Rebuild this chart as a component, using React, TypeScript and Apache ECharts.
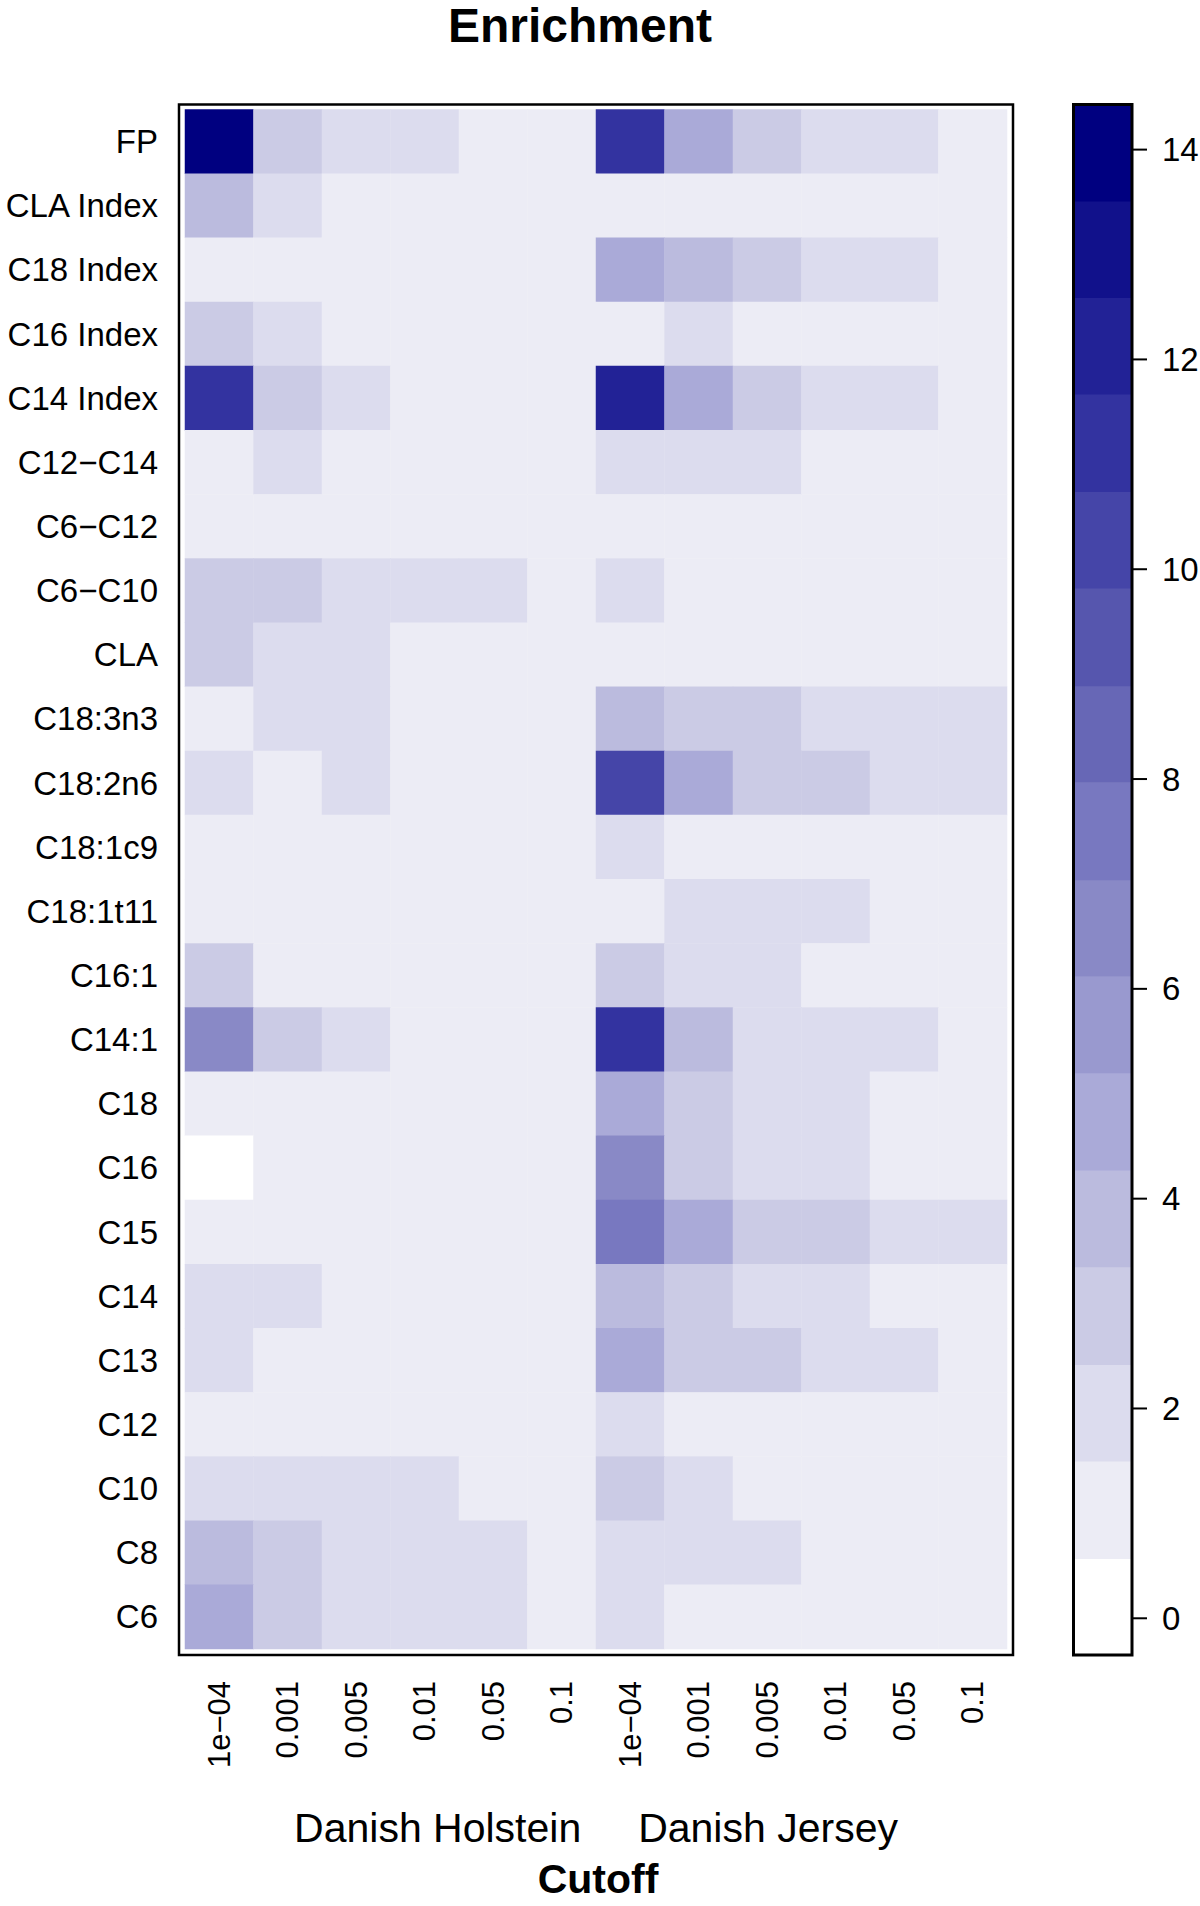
import React, { useEffect, useRef } from "react";
import * as echarts from "echarts";

// ---------- data ----------
const rowLabels = [
  "FP", "CLA Index", "C18 Index", "C16 Index", "C14 Index", "C12−C14", "C6−C12", "C6−C10",
  "CLA", "C18:3n3", "C18:2n6", "C18:1c9", "C18:1t11", "C16:1", "C14:1", "C18", "C16",
  "C15", "C14", "C13", "C12", "C10", "C8", "C6",
];
const cutoffLabels = [
  "1e−04", "0.001", "0.005", "0.01", "0.05", "0.1",
  "1e−04", "0.001", "0.005", "0.01", "0.05", "0.1",
];
const groupLabel = "Danish Holstein     Danish Jersey";
const axisTitle = "Cutoff";
const chartTitle = "Enrichment";

// enrichment per row: 6 cutoffs Danish Holstein, then 6 cutoffs Danish Jersey
const valFP = [14.0, 2.9, 2.0, 2.0, 1.0, 1.0, 11.2, 4.7, 2.9, 2.0, 2.0, 1.0];
const valCLAIndex = [3.8, 2.0, 1.0, 1.0, 1.0, 1.0, 1.0, 1.0, 1.0, 1.0, 1.0, 1.0];
const valC18Index = [1.0, 1.0, 1.0, 1.0, 1.0, 1.0, 4.7, 3.8, 2.9, 2.0, 2.0, 1.0];
const valC16Index = [2.9, 2.0, 1.0, 1.0, 1.0, 1.0, 1.0, 2.0, 1.0, 1.0, 1.0, 1.0];
const valC14Index = [11.2, 2.9, 2.0, 1.0, 1.0, 1.0, 12.1, 4.7, 2.9, 2.0, 2.0, 1.0];
const valC12C14 = [1.0, 2.0, 1.0, 1.0, 1.0, 1.0, 2.0, 2.0, 2.0, 1.0, 1.0, 1.0];
const valC6C12 = [1.0, 1.0, 1.0, 1.0, 1.0, 1.0, 1.0, 1.0, 1.0, 1.0, 1.0, 1.0];
const valC6C10 = [2.9, 2.9, 2.0, 2.0, 2.0, 1.0, 2.0, 1.0, 1.0, 1.0, 1.0, 1.0];
const valCLA = [2.9, 2.0, 2.0, 1.0, 1.0, 1.0, 1.0, 1.0, 1.0, 1.0, 1.0, 1.0];
const valC183n3 = [1.0, 2.0, 2.0, 1.0, 1.0, 1.0, 3.8, 2.9, 2.9, 2.0, 2.0, 2.0];
const valC182n6 = [2.0, 1.0, 2.0, 1.0, 1.0, 1.0, 10.3, 4.7, 2.9, 2.9, 2.0, 2.0];
const valC181c9 = [1.0, 1.0, 1.0, 1.0, 1.0, 1.0, 2.0, 1.0, 1.0, 1.0, 1.0, 1.0];
const valC181t11 = [1.0, 1.0, 1.0, 1.0, 1.0, 1.0, 1.0, 2.0, 2.0, 2.0, 1.0, 1.0];
const valC161 = [2.9, 1.0, 1.0, 1.0, 1.0, 1.0, 2.9, 2.0, 2.0, 1.0, 1.0, 1.0];
const valC141 = [6.6, 2.9, 2.0, 1.0, 1.0, 1.0, 11.2, 3.8, 2.0, 2.0, 2.0, 1.0];
const valC18 = [1.0, 1.0, 1.0, 1.0, 1.0, 1.0, 4.7, 2.9, 2.0, 2.0, 1.0, 1.0];
const valC16 = [0.0, 1.0, 1.0, 1.0, 1.0, 1.0, 6.6, 2.9, 2.0, 2.0, 1.0, 1.0];
const valC15 = [1.0, 1.0, 1.0, 1.0, 1.0, 1.0, 7.5, 4.7, 2.9, 2.9, 2.0, 2.0];
const valC14 = [2.0, 2.0, 1.0, 1.0, 1.0, 1.0, 3.8, 2.9, 2.0, 2.0, 1.0, 1.0];
const valC13 = [2.0, 1.0, 1.0, 1.0, 1.0, 1.0, 4.7, 2.9, 2.9, 2.0, 2.0, 1.0];
const valC12 = [1.0, 1.0, 1.0, 1.0, 1.0, 1.0, 2.0, 1.0, 1.0, 1.0, 1.0, 1.0];
const valC10 = [2.0, 2.0, 2.0, 2.0, 1.0, 1.0, 2.9, 2.0, 1.0, 1.0, 1.0, 1.0];
const valC8 = [3.8, 2.9, 2.0, 2.0, 2.0, 1.0, 2.0, 2.0, 2.0, 1.0, 1.0, 1.0];
const valC6 = [4.7, 2.9, 2.0, 2.0, 2.0, 1.0, 2.0, 1.0, 1.0, 1.0, 1.0, 1.0];

const rowValues = [
  valFP, valCLAIndex, valC18Index, valC16Index, valC14Index, valC12C14, valC6C12, valC6C10,
  valCLA, valC183n3, valC182n6, valC181c9, valC181t11, valC161, valC141, valC18, valC16,
  valC15, valC14, valC13, valC12, valC10, valC8, valC6,
];

// colour key
const breaks = [
  -0.35, 0.57, 1.5, 2.42, 3.35, 4.27, 5.2, 6.12, 7.04, 7.97, 8.89, 9.82, 10.74, 11.67, 12.59, 13.51, 14.43,
];
const palette = [
  "#ffffff", "#ececf5", "#dcdcee", "#cbcbe5", "#bbbbde", "#aaaad8", "#9999cf", "#8989c6",
  "#7878c0", "#6767b6", "#5656ae", "#4545a8", "#3333a0", "#222296", "#11118b", "#000080",
];
const keyTicks = [0, 2, 4, 6, 8, 10, 12, 14];

const FONT = "Liberation Sans, Arial, Helvetica, sans-serif";

export default function App() {
  const ref = useRef<HTMLDivElement>(null);

  useEffect(() => {
    if (!ref.current) return;
    const chart = echarts.init(ref.current, null, { renderer: "svg" });

    const heatData: number[][] = [];
    rowValues.forEach((row, r) => {
      row.forEach((v, c) => heatData.push([c, r, v]));
    });

    const pieces = palette.map((color, k) => ({
      gte: breaks[k],
      lt: breaks[k + 1],
      color,
    }));

    const bandData = palette.map((_, k) => [breaks[k], breaks[k + 1], k]);
    const tickData = keyTicks.map((v) => [1, v]);

    const option: any = {
      animation: false,
      backgroundColor: "#ffffff",
      grid: [
        {
          left: 185, top: 109.5, width: 822, height: 1539.5,
          containLabel: false, outerBoundsMode: "none",
        },
        {
          left: 1073.5, top: 104.5, width: 58.5, height: 1550.5,
          containLabel: false, outerBoundsMode: "none",
        },
      ],
      xAxis: [
        {
          type: "category",
          gridIndex: 0,
          data: cutoffLabels,
          position: "bottom",
          axisLine: { show: false },
          axisTick: { show: false },
          splitLine: { show: false },
          axisLabel: {
            rotate: 90,
            margin: 32,
            fontSize: 31,
            color: "#000",
            fontFamily: FONT,
            interval: 0,
          },
        },
        { type: "value", gridIndex: 1, min: 0, max: 1, show: false },
      ],
      yAxis: [
        {
          type: "category",
          gridIndex: 0,
          data: rowLabels,
          inverse: true,
          axisLine: { show: false },
          axisTick: { show: false },
          splitLine: { show: false },
          axisLabel: {
            margin: 27,
            fontSize: 33,
            color: "#000",
            fontFamily: FONT,
            interval: 0,
          },
        },
        {
          type: "value",
          gridIndex: 1,
          min: breaks[0],
          max: breaks[breaks.length - 1],
          position: "right",
          splitLine: { show: false },
          axisLine: { show: false },
          axisTick: { show: false },
          axisLabel: {
            customValues: keyTicks,
            margin: 30,
            fontSize: 33,
            color: "#000",
            fontFamily: FONT,
          },
        },
      ],
      visualMap: {
        type: "piecewise",
        show: false,
        seriesIndex: 0,
        dimension: 2,
        pieces,
      },
      series: [
        {
          type: "heatmap",
          xAxisIndex: 0,
          yAxisIndex: 0,
          data: heatData,
          itemStyle: { borderWidth: 0 },
          emphasis: { disabled: true },
        },
        {
          type: "custom",
          xAxisIndex: 1,
          yAxisIndex: 1,
          data: bandData,
          renderItem: (params: any, api: any) => {
            const lo = api.value(0);
            const hi = api.value(1);
            const k = api.value(2);
            const p0 = api.coord([0, lo]);
            const p1 = api.coord([1, hi]);
            return {
              type: "rect",
              shape: {
                x: p0[0],
                y: p1[1],
                width: p1[0] - p0[0],
                height: p0[1] - p1[1] + 0.5,
              },
              style: { fill: palette[k], stroke: null },
            };
          },
        },
        {
          // colour-key tick marks
          type: "custom",
          xAxisIndex: 1,
          yAxisIndex: 1,
          data: tickData,
          clip: false,
          renderItem: (params: any, api: any) => {
            const p = api.coord([api.value(0), api.value(1)]);
            return {
              type: "line",
              shape: { x1: p[0], y1: p[1], x2: p[0] + 15, y2: p[1] },
              style: { stroke: "#000", lineWidth: 2 },
            };
          },
        },
      ],
      graphic: [
        {
          type: "rect",
          shape: { x: 179, y: 104.5, width: 834, height: 1550.5 },
          style: { fill: "none", stroke: "#000", lineWidth: 2.5 },
          z: 100,
        },
        {
          type: "rect",
          shape: { x: 1073.5, y: 104.5, width: 58.5, height: 1550.5 },
          style: { fill: "none", stroke: "#000", lineWidth: 3 },
          z: 100,
        },
        {
          type: "text",
          x: 580,
          y: 25,
          style: {
            text: chartTitle,
            fontSize: 48,
            fontWeight: "bold",
            fontFamily: FONT,
            fill: "#000",
            align: "center",
            verticalAlign: "middle",
          },
        },
        {
          type: "text",
          x: 596,
          y: 1828,
          style: {
            text: groupLabel,
            fontSize: 41,
            fontFamily: FONT,
            fill: "#000",
            align: "center",
            verticalAlign: "middle",
          },
        },
        {
          type: "text",
          x: 598,
          y: 1879,
          style: {
            text: axisTitle,
            fontSize: 41,
            fontWeight: "bold",
            fontFamily: FONT,
            fill: "#000",
            align: "center",
            verticalAlign: "middle",
          },
        },
      ],
    };

    chart.setOption(option);
    return () => chart.dispose();
  }, []);

  return (
    <div
      ref={ref}
      style={{ position: "fixed", left: 0, top: 0, width: 1200, height: 1906, background: "#fff" }}
    />
  );
}
